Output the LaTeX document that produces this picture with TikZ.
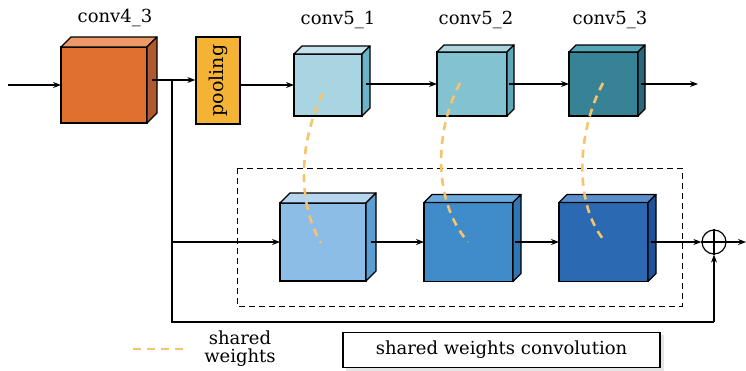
\documentclass[tikz,border=0pt]{standalone}
\usepackage{fontspec}
\setmainfont{DejaVu Serif}
\usetikzlibrary{arrows.meta,calc}
\definecolor{oF}{HTML}{E0702F}\definecolor{oT}{HTML}{EE9A68}\definecolor{oS}{HTML}{AE5A2E}
\definecolor{pool}{HTML}{F5B335}
\definecolor{aF}{HTML}{A9D4E1}\definecolor{aT}{HTML}{C3E2EB}\definecolor{aS}{HTML}{6BB4C8}
\definecolor{bF}{HTML}{83C3D1}\definecolor{bT}{HTML}{A9D5E0}\definecolor{bS}{HTML}{5EA7BA}
\definecolor{cF}{HTML}{388295}\definecolor{cT}{HTML}{55A5BA}\definecolor{cS}{HTML}{2A6878}
\definecolor{dF}{HTML}{8BBDE6}\definecolor{dT}{HTML}{B6D6F0}\definecolor{dS}{HTML}{5C9DD2}
\definecolor{eF}{HTML}{408CCA}\definecolor{eT}{HTML}{6CAADB}\definecolor{eS}{HTML}{2F75B5}
\definecolor{fF}{HTML}{2B6AB3}\definecolor{fT}{HTML}{5A8FCC}\definecolor{fS}{HTML}{1F5296}
\definecolor{shw}{HTML}{F7C46A}
\newcommand\mycube[9]{%
  \node[cubefront, fill=#7, minimum width=#4pt, minimum height=#5pt] (#1) at (#2,#3) {};
  \filldraw[cubeface, fill=#8] (#1.north west) -- ++(#6,-#6) -- ($(#1.north east)+(#6,-#6)$) -- (#1.north east) -- cycle;
  \filldraw[cubeface, fill=#9] (#1.north east) -- ++(#6,-#6) -- ($(#1.south east)+(#6,-#6)$) -- (#1.south east) -- cycle;
}
\tikzset{
  cubefront/.style={draw, line width=1.3pt, inner sep=0pt, outer sep=0pt},
  cubeface/.style={draw, line width=1.3pt, line join=round},
  arr/.style={line width=1.1pt, -{Stealth[length=8pt,width=6pt]}},
  ln/.style={line width=1.1pt},
  sw/.style={shw, line width=2.6pt, dash pattern=on 8pt off 6pt},
  lbl/.style={font=\fontsize{18}{20}\selectfont, inner sep=0pt},
}
\begin{document}
\begin{tikzpicture}[x=1pt,y=-1pt]
\useasboundingbox[fill=white] (0,0) rectangle (746,370);
% labels
\node[lbl] (l43) at (115,18) {conv4\_3};
\node[lbl] (l51) at (338,20) {conv5\_1};
\node[lbl] (l52) at (476,20) {conv5\_2};
\node[lbl] (l53) at (610,20) {conv5\_3};
% dashed container
\draw[line width=0.9pt, dash pattern=on 6pt off 4pt] (237,168) rectangle (682,306);
% top row
\mycube{c43}{104}{85}{86}{76}{10}{oF}{oT}{oS}
\node[draw, line width=1.3pt, fill=pool, minimum width=44pt, minimum height=87pt, inner sep=0pt] (pool) at (218,80.5) {};
\node[lbl, rotate=90, font=\fontsize{19}{20}\selectfont] (pooltxt) at (pool.center) {pooling};
\mycube{c51}{328}{85}{68}{62}{8}{aF}{aT}{aS}
\mycube{c52}{472}{84}{70}{64}{7}{bF}{bT}{bS}
\mycube{c53}{603.5}{84}{69}{64}{7}{cF}{cT}{cS}
% bottom row
\mycube{d1}{323}{242}{86}{78}{10}{dF}{dT}{dS}
\mycube{d2}{468.5}{242}{89}{79}{8}{eF}{eT}{eS}
\mycube{d3}{603.5}{242}{89}{79}{8}{fF}{fT}{fS}
% oplus
\node[draw, circle, line width=1.2pt, minimum size=24pt, inner sep=0pt] (plus) at (714,242) {};
\draw[line width=1.2pt] (plus.north) -- (plus.south) (plus.west) -- (plus.east);
% coordinates
\coordinate (in) at (8,85);
\coordinate (br) at (172,80);
\coordinate (bl) at (172,322);
\coordinate (out1) at (698,84);
\coordinate (out2) at (746,242);
% top connectors
\draw[arr] (in) -- (c43.west);
\draw[arr] (152,80) -- (pool.west |- br);
\draw[arr] (pool.east |- c51.west) -- (c51.west);
\draw[arr] ($(c51.east |- c52.west)+(4,0)$) -- (c52.west);
\draw[arr] ($(c52.east)+(2,0)$) -- (c53.west);
\draw[arr] ($(c53.east)+(3,0)$) -- (out1);
% branch
\draw[ln] (br) -- (bl) -- (bl -| plus) ;
\draw[arr] (bl -| plus) -- (plus.south);
\draw[arr] (br |- d1.west) -- (d1.west);
\draw[arr] ($(d1.east)+(5,0)$) -- (d2.west);
\draw[arr] ($(d2.east)+(2,0)$) -- (d3.west);
\draw[arr] ($(d3.east)+(3,0)$) -- (plus.west);
\draw[arr] (plus.east) -- (out2);
% shared weights
\draw[sw] (323,93) .. controls (300,140) and (296,200) .. (321,243);
\draw[sw] (460,83) .. controls (435,130) and (432,200) .. (468,242);
\draw[sw] (603,83) .. controls (578,130) and (573,200) .. (603,239);
% legend
\coordinate (lg1) at (133,349);
\coordinate (lg2) at (186,349);
\draw[sw] (lg1) -- (lg2);
\node[lbl, align=center, font=\fontsize{18}{18}\selectfont] (lgt) at (240,349) {shared\\weights};
\fill[black!10] (346,335) rectangle (664,371);
\node[draw, line width=1.2pt, fill=white, minimum width=317pt, minimum height=35pt, inner sep=0pt, lbl] (lgb) at (501.5,350) {shared weights convolution};
\end{tikzpicture}
\end{document}
